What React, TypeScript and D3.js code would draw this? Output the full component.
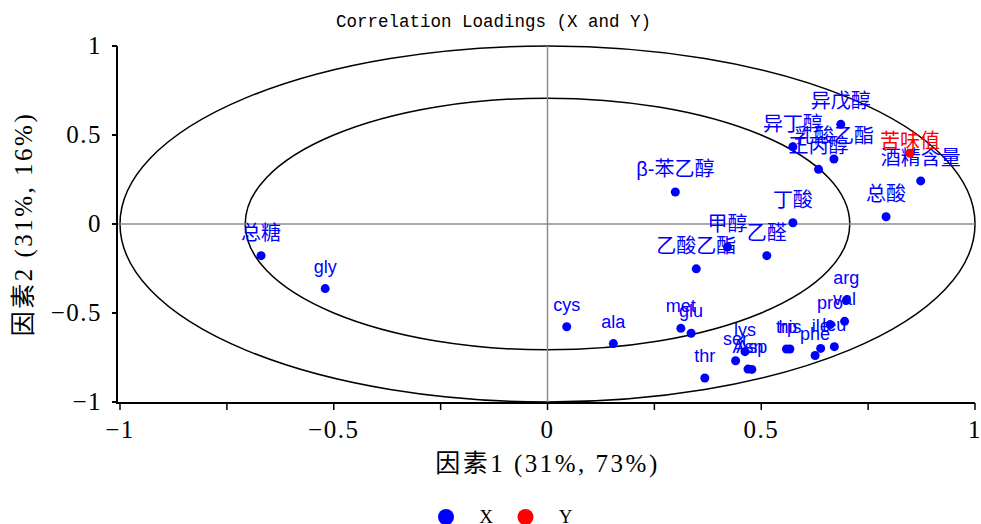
import { useRef, useEffect } from 'react';
import * as d3 from 'd3';

// X block loadings (factor 1, factor 2)
const xNames = [
  '总糖', 'gly', 'cys', 'ala', 'met', 'glu', 'thr', 'ser', 'lys', 'Asn', 'Asp',
  'trp', 'his', 'phe', 'ile', 'leu', 'pro', 'val', 'arg',
  '乙酸乙酯', '甲醇', '乙醛', '丁酸', 'β-苯乙醇', '总酸', '酒精含量',
  '正丙醇', '乳酸乙酯', '异丁醇', '异戊醇',
];
const xFactor1 = [
  -0.67, -0.52, 0.045, 0.154, 0.312, 0.336, 0.368, 0.44, 0.462, 0.469, 0.478,
  0.559, 0.567, 0.626, 0.639, 0.671, 0.661, 0.695, 0.699,
  0.348, 0.421, 0.513, 0.574, 0.299, 0.792, 0.873,
  0.634, 0.67, 0.574, 0.686,
];
const xFactor2 = [
  -0.178, -0.363, -0.577, -0.672, -0.586, -0.614, -0.865, -0.768, -0.717, -0.815, -0.817,
  -0.702, -0.702, -0.739, -0.699, -0.689, -0.565, -0.547, -0.429,
  -0.252, -0.129, -0.178, 0.007, 0.18, 0.041, 0.242,
  0.307, 0.365, 0.434, 0.56,
];

// Y block loadings
const yNames = ['苦味值'];
const yFactor1 = [0.848];
const yFactor2 = [0.397];

const majorTicks = [-1, -0.5, 0, 0.5, 1];
const minorTicks = [-0.75, -0.25, 0.25, 0.75];
const tickLabels = ['−1', '−0.5', '0', '0.5', '1'];

const legendNames = ['X', 'Y'];
const legendColors = ['#0000ff', '#ff0000'];

const title = 'Correlation Loadings (X and Y)';
const xTitle = '因素1 (31%, 73%)';
const yTitle = '因素2 (31%, 16%)';

const width = 981;
const height = 524;

export default function App() {
  const svgRef = useRef<SVGSVGElement>(null);

  useEffect(() => {
    if (!svgRef.current) return;
    const margin = { top: 46, right: 6, bottom: 122, left: 120 };
    const innerWidth = width - margin.left - margin.right;
    const innerHeight = height - margin.top - margin.bottom;

    const svg = d3.select(svgRef.current);
    svg.selectAll('*').remove();
    svg.attr('width', width).attr('height', height);

    const serif = '"Liberation Serif", "Noto Sans CJK SC", serif';
    const sans = '"Liberation Sans", Arial, "Noto Sans CJK SC", sans-serif';

    // Title
    svg.append('text')
      .attr('x', width / 2 + 3)
      .attr('y', 27)
      .attr('text-anchor', 'middle')
      .attr('font-family', '"Liberation Mono", monospace')
      .attr('font-size', '17.5px')
      .attr('fill', '#000')
      .text(title);

    const g = svg.append('g').attr('transform', `translate(${margin.left},${margin.top})`);

    const xScale = d3.scaleLinear().domain([-1, 1]).range([0, innerWidth]);
    const yScale = d3.scaleLinear().domain([-1, 1]).range([innerHeight, 0]);

    // Correlation circles (100% and 50% explained variance)
    [1, Math.sqrt(0.5)].forEach((r) => {
      g.append('ellipse')
        .attr('cx', xScale(0))
        .attr('cy', yScale(0))
        .attr('rx', xScale(r) - xScale(0))
        .attr('ry', yScale(0) - yScale(r))
        .attr('fill', 'none')
        .attr('stroke', '#000')
        .attr('stroke-width', 1.5);
    });

    // Zero lines
    g.append('line')
      .attr('x1', xScale(0)).attr('x2', xScale(0))
      .attr('y1', yScale(1)).attr('y2', yScale(-1))
      .attr('stroke', '#8c8c8c').attr('stroke-width', 1.5);
    g.append('line')
      .attr('x1', -3).attr('x2', xScale(1))
      .attr('y1', yScale(0)).attr('y2', yScale(0))
      .attr('stroke', '#8c8c8c').attr('stroke-width', 1.5);

    // X axis
    const xAxis = g.append('g').attr('transform', `translate(0,${innerHeight + 1})`);
    xAxis.append('line')
      .attr('x1', -3).attr('x2', xScale(1))
      .attr('stroke', '#000').attr('stroke-width', 2);
    xAxis.selectAll('.tick')
      .data([...majorTicks, ...minorTicks])
      .enter()
      .append('line')
      .attr('x1', (d) => xScale(d)).attr('x2', (d) => xScale(d))
      .attr('y1', 0).attr('y2', 7)
      .attr('stroke', '#000').attr('stroke-width', 1.5);
    xAxis.selectAll('.tick-label')
      .data(majorTicks)
      .enter()
      .append('text')
      .attr('x', (d) => xScale(d))
      .attr('y', 35)
      .attr('text-anchor', 'middle')
      .attr('font-family', serif)
      .attr('font-size', '25px')
      .attr('letter-spacing', '1.5px')
      .text((_, i) => tickLabels[i]);

    // Y axis
    const yAxis = g.append('g').attr('transform', 'translate(-3,0)');
    yAxis.append('line')
      .attr('y1', yScale(1)).attr('y2', innerHeight + 2)
      .attr('stroke', '#000').attr('stroke-width', 2);
    yAxis.selectAll('.tick')
      .data(majorTicks)
      .enter()
      .append('line')
      .attr('x1', -5).attr('x2', 0)
      .attr('y1', (d) => yScale(d)).attr('y2', (d) => yScale(d))
      .attr('stroke', '#000').attr('stroke-width', 2);
    yAxis.selectAll('.tick-label')
      .data(majorTicks)
      .enter()
      .append('text')
      .attr('x', -15)
      .attr('y', (d) => yScale(d))
      .attr('dy', '0.32em')
      .attr('text-anchor', 'end')
      .attr('font-family', serif)
      .attr('font-size', '25px')
      .attr('letter-spacing', '1.5px')
      .text((_, i) => tickLabels[i]);

    // Axis titles
    svg.append('text')
      .attr('x', margin.left + xScale(0))
      .attr('y', 472)
      .attr('text-anchor', 'middle')
      .attr('font-family', serif)
      .attr('font-size', '25px')
      .attr('letter-spacing', '2.5px')
      .text(xTitle);
    svg.append('text')
      .attr('transform', `translate(32,${margin.top + yScale(0)}) rotate(-90)`)
      .attr('text-anchor', 'middle')
      .attr('font-family', serif)
      .attr('font-size', '25px')
      .attr('letter-spacing', '2.5px')
      .text(yTitle);

    const xData = xNames.map((name, i) => ({ name, f1: xFactor1[i], f2: xFactor2[i] }));
    const yData = yNames.map((name, i) => ({ name, f1: yFactor1[i], f2: yFactor2[i] }));
    const isCjk = (s: string) => /[\u4e00-\u9fff]/.test(s);

    // Labels
    g.selectAll('.x-label')
      .data(xData)
      .enter()
      .append('text')
      .attr('x', (d) => xScale(d.f1))
      .attr('y', (d) => yScale(d.f2) - 16)
      .attr('text-anchor', 'middle')
      .attr('font-family', sans)
      .attr('font-size', (d) => (isCjk(d.name) ? '20px' : '18px'))
      .attr('fill', legendColors[0])
      .text((d) => d.name);
    g.selectAll('.y-label')
      .data(yData)
      .enter()
      .append('text')
      .attr('x', (d) => xScale(d.f1))
      .attr('y', (d) => yScale(d.f2) - 5)
      .attr('text-anchor', 'middle')
      .attr('font-family', sans)
      .attr('font-size', '20px')
      .attr('fill', legendColors[1])
      .text((d) => d.name);

    // Points
    g.selectAll('.x-point')
      .data(xData)
      .enter()
      .append('circle')
      .attr('cx', (d) => xScale(d.f1))
      .attr('cy', (d) => yScale(d.f2))
      .attr('r', 4.5)
      .attr('fill', legendColors[0]);
    g.selectAll('.y-point')
      .data(yData)
      .enter()
      .append('circle')
      .attr('cx', (d) => xScale(d.f1))
      .attr('cy', (d) => yScale(d.f2))
      .attr('r', 4.5)
      .attr('fill', legendColors[1]);

    // Legend
    const legend = svg.append('g').attr('transform', 'translate(446,517)');
    legendNames.forEach((name, i) => {
      const item = legend.append('g').attr('transform', `translate(${i * 79.5},0)`);
      item.append('circle').attr('r', 8).attr('fill', legendColors[i]);
      item.append('text')
        .attr('x', 40)
        .attr('dy', '0.3em')
        .attr('text-anchor', 'middle')
        .attr('font-family', serif)
        .attr('font-size', '19px')
        .text(name);
    });
  }, []);

  return (
    <svg
      ref={svgRef}
      style={{ position: 'absolute', left: 0, top: 0, background: '#fff' }}
    />
  );
}
